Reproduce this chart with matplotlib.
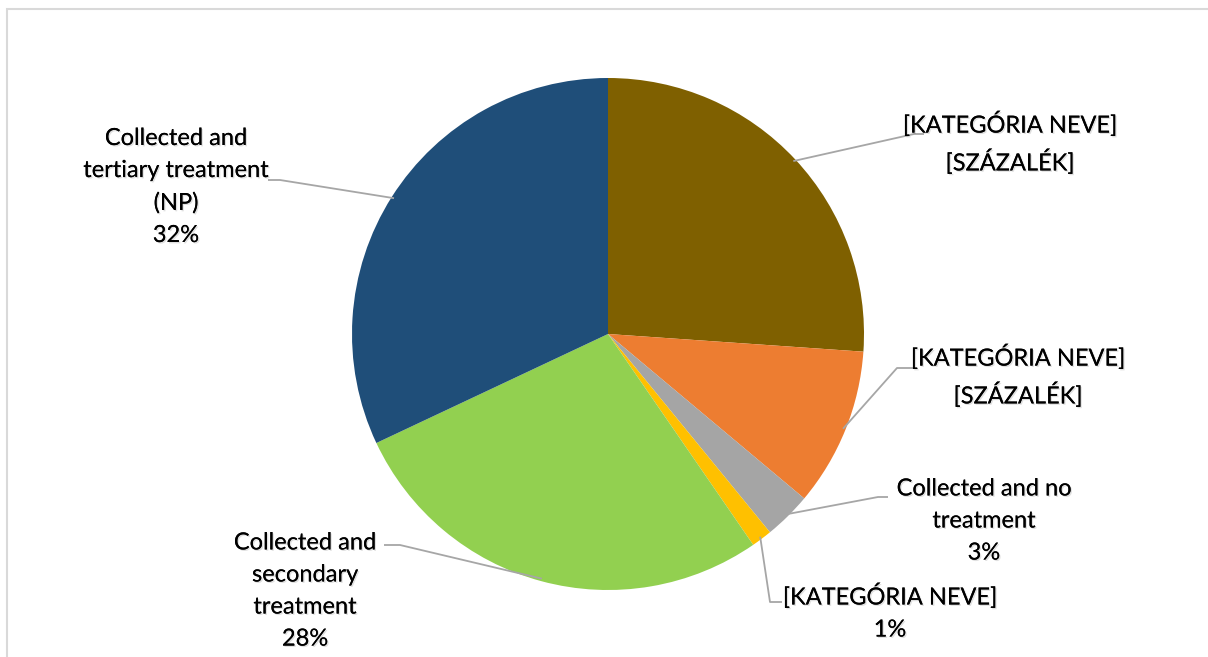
import matplotlib.pyplot as plt
import matplotlib.patches as patches
import matplotlib.patheffects as pe
import numpy as np

# ── Data ──────────────────────────────────────────────────────────────────────
labels = ["[KATEGÓRIA NEVE]", "[KATEGÓRIA NEVE]", "Collected and no\ntreatment",
          "[KATEGÓRIA NEVE]", "Collected and\nsecondary\ntreatment",
          "Collected and\ntertiary treatment\n(NP)"]
pct_text = ["[SZÁZALÉK]", "[SZÁZALÉK]", "3%", "1%", "28%", "32%"]
values = [26.1, 10.0, 3.0, 1.3, 27.6, 32.0]
colors = ["#7F6000", "#ED7D31", "#A5A5A5", "#FFC000", "#92D050", "#1F4E79"]

W, H = 1208, 657
CX, CY, R = 608, H - 334, 256

# label block centre (image px) and leader elbow points (image px)
label_pos = [(1010, 143), (1018, 376), (984, 521), (890, 612), (305, 591), (176, 187)]
elbow_pos = [(914, 134), (897, 368), (878, 497), (770, 602), (400, 545), (280, 180)]
elbow_end = [(924, 134), (915, 368), (888, 497), (782, 602), (384, 545), (268, 180)]

fig = plt.figure(figsize=(W / 100, H / 100), dpi=100, facecolor="white")
ax = fig.add_axes([0, 0, 1, 1])

wedges, _ = ax.pie(values, colors=colors, startangle=90, counterclock=False,
                   center=(CX, CY), radius=R, frame=True,
                   wedgeprops=dict(lw=0))
ax.set_xlim(0, W); ax.set_ylim(0, H)
ax.set_aspect("equal"); ax.axis("off")

# chart area border
ax.add_patch(patches.Rectangle((7, -20), W + 20, H - 9 + 20, fill=False,
                               ec="#D9D9D9", lw=1.5))

for w, lab, pt, lp, el, ee in zip(wedges, labels, pct_text, label_pos,
                                  elbow_pos, elbow_end):
    a = np.deg2rad((w.theta1 + w.theta2) / 2)
    ex, ey = CX + R * 0.99 * np.cos(a), CY + R * 0.99 * np.sin(a)
    ax.plot([ex, el[0], ee[0]], [ey, H - el[1], H - ee[1]],
            color="#A6A6A6", lw=1.3, solid_capstyle="butt", zorder=3)
    ax.text(lp[0], H - lp[1], lab + "\n" + pt, ha="center", va="center",
            fontsize=17, family="Lato", color="#000000", linespacing=1.65,
            path_effects=[pe.withSimplePatchShadow(offset=(1, -1), alpha=0.12),
                          pe.Normal()])

fig.savefig("out.png", dpi=100, facecolor="white")
